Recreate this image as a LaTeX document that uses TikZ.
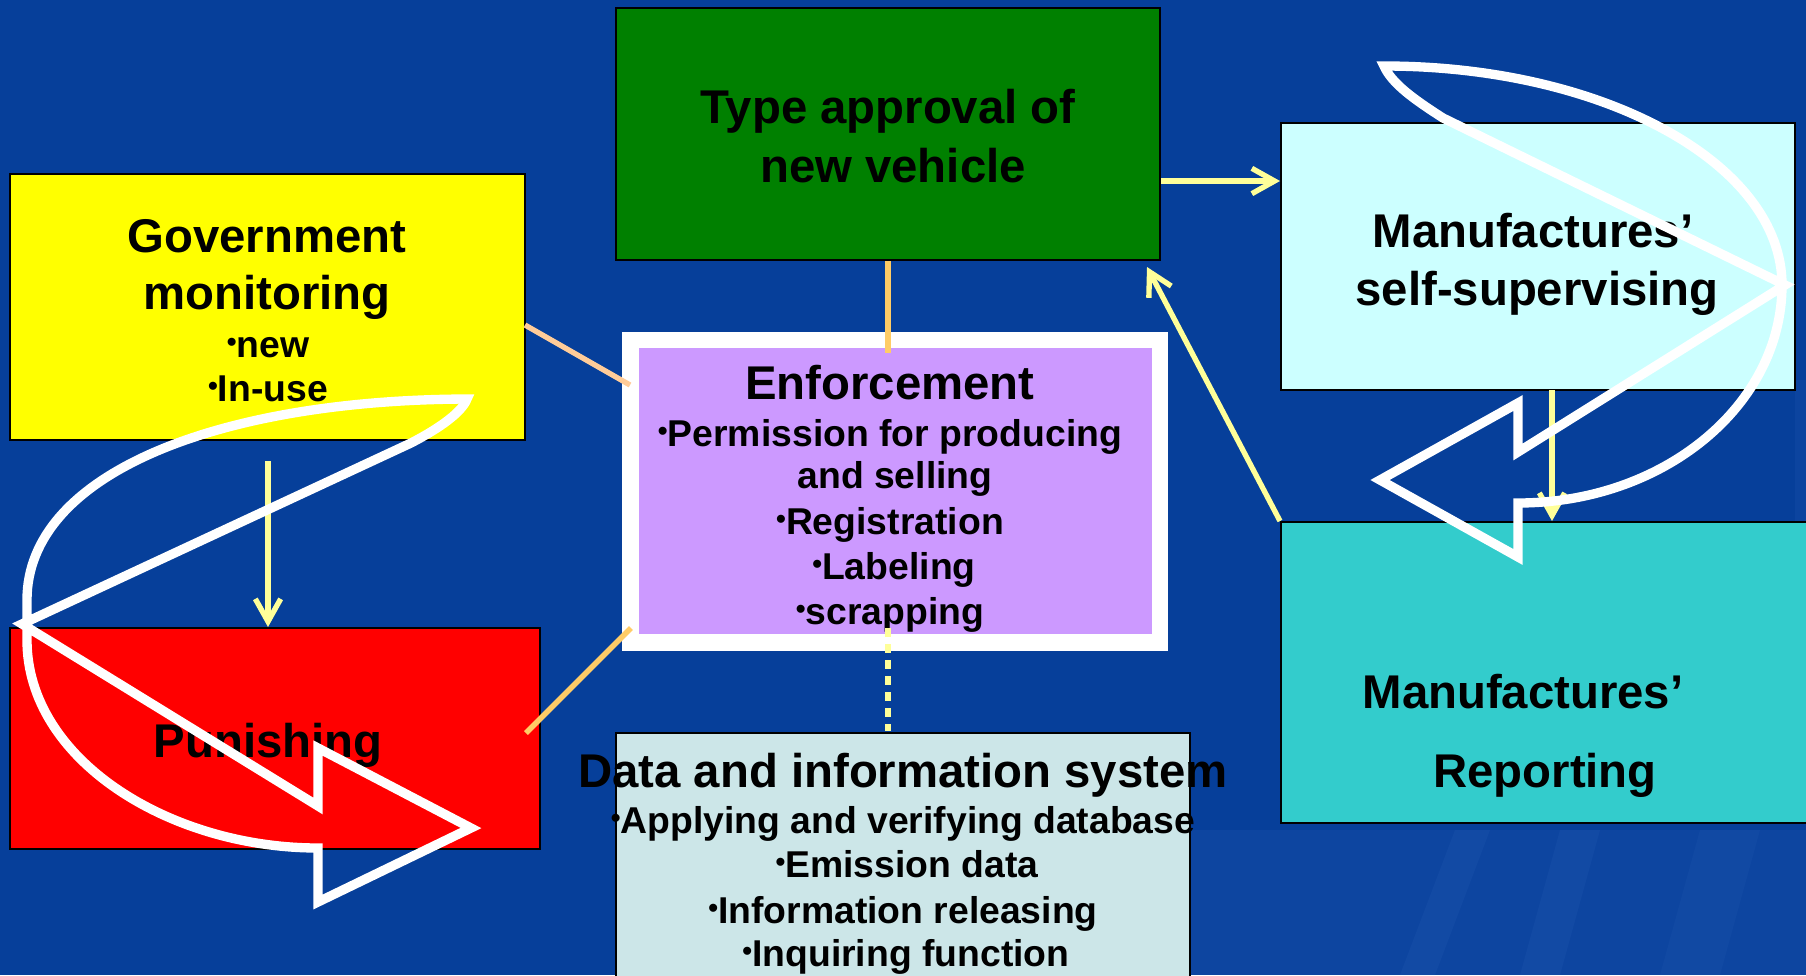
\documentclass[tikz,border=0pt]{standalone}
\usepackage{fontspec}
\setmainfont{Liberation Sans}
\usetikzlibrary{arrows.meta}
\definecolor{bg}{RGB}{6,63,154}
\definecolor{lb}{RGB}{70,120,205}
\definecolor{grn}{RGB}{0,128,0}
\definecolor{ylwbox}{RGB}{255,255,0}
\definecolor{redbox}{RGB}{255,0,0}
\definecolor{purp}{RGB}{204,153,255}
\definecolor{datab}{RGB}{204,230,232}
\definecolor{selfb}{RGB}{204,255,255}
\definecolor{repb}{RGB}{51,204,204}
\definecolor{ylw}{RGB}{255,255,153}
\definecolor{orng}{RGB}{255,204,102}
\definecolor{peach}{RGB}{255,204,153}
\newcommand{\bul}{{\fontsize{21}{21}\selectfont\raisebox{4.5pt}{•}}}
\begin{document}
\begin{tikzpicture}[x=0.75pt,y=-0.75pt,
  wd/.style={minimum width=#1*0.75pt},
  ht/.style={minimum height=#1*0.75pt},
  box/.style={draw=black, line width=1.5pt, inner sep=0pt, rectangle},
  plain/.style={inner sep=0pt, rectangle},
  ttl/.style={font=\fontsize{35.5}{40}\selectfont\bfseries, anchor=base, inner sep=0pt},
  itm/.style={font=\fontsize{28}{32}\selectfont\bfseries, anchor=base, inner sep=0pt},
  conn/.style={line width=4pt},
  arr/.style={conn, draw=ylw, -{Straight Barb[length=17pt,width=19pt]}},
  warrow/.style={draw=white, line width=7pt, line join=miter, miter limit=4}]
\useasboundingbox (0,0) rectangle (1806,975);
\clip (0,0) rectangle (1806,975);
\fill[bg] (0,0) rectangle (1806,975);
% faint background texture
\fill[lb, opacity=0.12] (1190,830) rectangle (1806,975);
\fill[lb, opacity=0.10] (1795,380) rectangle (1806,530);
\fill[lb, opacity=0.10] (1400,975) -- (1455,830) -- (1490,830) -- (1435,975) -- cycle;
\fill[lb, opacity=0.10] (1520,975) -- (1560,830) -- (1600,830) -- (1560,975) -- cycle;
\fill[lb, opacity=0.08] (1660,975) -- (1700,830) -- (1760,830) -- (1720,975) -- cycle;

% boxes
\node[box, fill=grn, wd=544, ht=252] (typeapp) at (888,134) {};
\node[box, fill=ylwbox, wd=515, ht=266] (gov) at (267.5,307) {};
\node[box, fill=redbox, wd=530, ht=221] (pun) at (275,738.5) {};
\node[plain, fill=white, wd=546, ht=319] (enf) at (895,491.5) {};
\node[plain, fill=purp, wd=513, ht=286] (enfin) at (895.5,491) {};
\node[box, fill=datab, wd=574, ht=267] (data) at (903,866.5) {};
\node[box, fill=selfb, wd=514, ht=267] (self) at (1538,256.5) {};
\node[box, fill=repb, wd=549, ht=301] (rep) at (1555.5,672.5) {};

% texts
\node[ttl] (t1) at (888,123) {Type approval of};
\node[ttl] (t2) at (893,182) {new vehicle};
\node[ttl] (t3) at (267,252) {Government};
\node[ttl] (t4) at (267,309) {monitoring};
\node[itm] (t5) at (268,357) {\bul new};
\node[itm] (t6) at (268,401) {\bul In-use};
\node[ttl] (t7) at (268,757) {Punishing};
\node[ttl] (t8) at (890,399) {Enforcement};
\node[itm] (t9) at (890,446) {\bul Permission for producing};
\node[itm] (t10) at (895,488) {and selling};
\node[itm] (t11) at (890,534) {\bul Registration};
\node[itm] (t12) at (894,579) {\bul Labeling};
\node[itm] (t13) at (890,624) {\bul scrapping};
\node[ttl] (t14) at (903,787) {Data and information system};
\node[itm] (t15) at (903,833) {\bul Applying and verifying database};
\node[itm] (t16) at (907,877) {\bul Emission data};
\node[itm] (t17) at (903,923) {\bul Information releasing};
\node[itm] (t18) at (906,966) {\bul Inquiring function};
\node[ttl] (t19) at (1533,247) {Manufactures’};
\node[ttl] (t20) at (1537,305) {self-supervising};
\node[ttl] (t21) at (1523,708) {Manufactures’};
\node[ttl] (t22) at (1545,787) {Reporting};

% connector end points
\coordinate (g1) at (525,325);
\coordinate (e1) at (630,385);
\coordinate (e2) at (631,628);
\coordinate (p1) at (526,733);
\coordinate (e3) at (888,353);
\coordinate (e4) at (888,628);
\coordinate (d1) at (888,731);
\coordinate (g2) at (268,461);
\coordinate (p2) at (268,627);
\coordinate (ta1) at (1161,181);
\coordinate (s1) at (1280,181);
\coordinate (s2) at (1552,390);
\coordinate (r1) at (1552,521);
\coordinate (r2) at (1280,521);
\coordinate (ta2) at (1147,267);

% connectors
\draw[conn, draw=peach] (g1) -- (e1);
\draw[conn, draw=orng] (typeapp.south) -- (e3);
\draw[conn, draw=orng] (e2) -- (p1);
\draw[line width=5pt, draw=ylw, dash pattern=on 7pt off 5pt] (e4) -- (d1);
\draw[arr] (g2) -- (p2);
\draw[arr] (ta1) -- (s1);
\draw[arr] (s2) -- (r1);
\draw[arr] (r2) -- (ta2);

% white curved arrows
\draw[warrow] (467,399) .. controls (215,400) and (27,475) .. (27,600)
  -- (27,640) .. controls (27,760) and (170,848) .. (318,848)
  -- (318,902) -- (471,828) -- (318,748) -- (318,806) -- (22,624)
  -- (411,443) .. controls (440,428) and (462,412) .. cycle;
\draw[warrow] (1384,66) .. controls (1604,66) and (1782,164) .. (1782,285)
  .. controls (1782,405) and (1664,503) .. (1518,503)
  -- (1518,557) -- (1380,480) -- (1518,403) -- (1518,452) -- (1785,285)
  -- (1443,118) .. controls (1415,100) and (1392,84) .. cycle;
\end{tikzpicture}
\end{document}
